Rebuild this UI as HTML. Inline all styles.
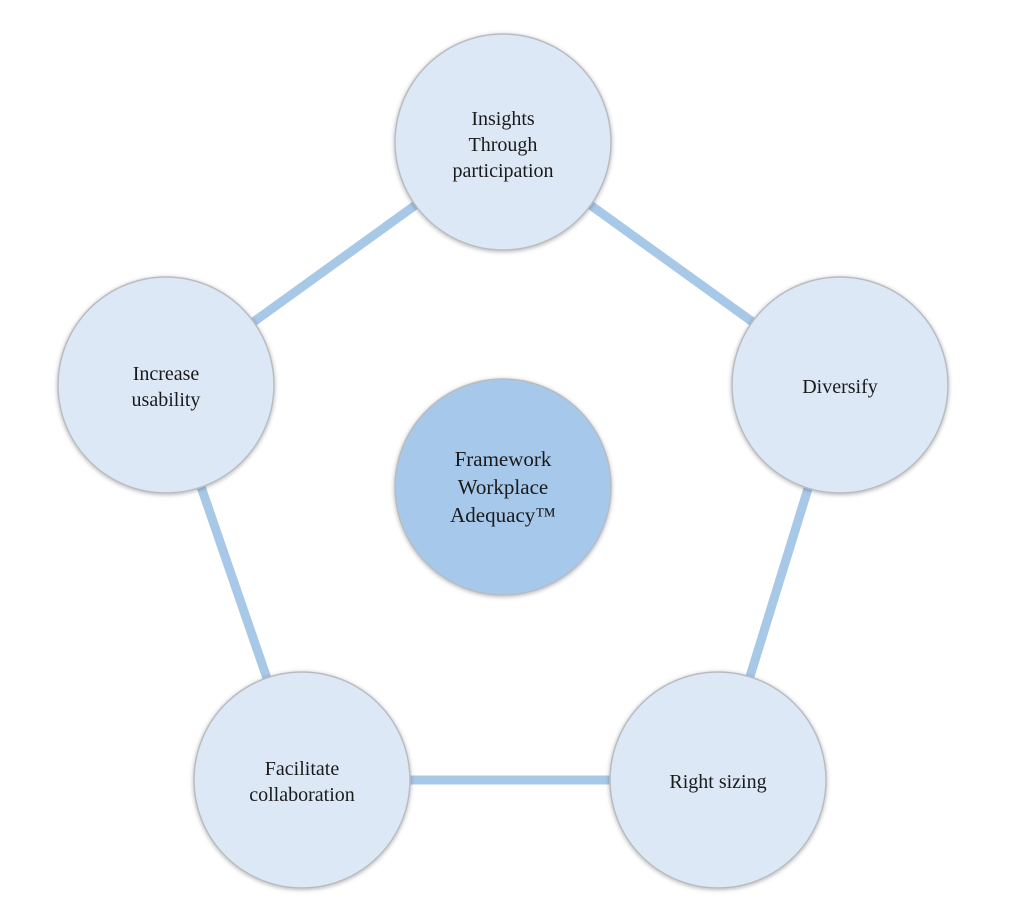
<!DOCTYPE html>
<html><head><style>
body{margin:0;background:#fff;}
svg text{font-family:"Liberation Serif",serif;font-size:20px;fill:#1a1a1a;text-anchor:middle;}
</style></head><body>
<svg width="1024" height="908" viewBox="0 0 1024 908" xmlns="http://www.w3.org/2000/svg">
<defs><filter id="s" x="-20%" y="-20%" width="140%" height="140%"><feDropShadow dx="0" dy="1" stdDeviation="2" flood-color="#000" flood-opacity="0.3"/></filter></defs>
<g stroke="#a8c8e8" stroke-width="9">
<line x1="503" y1="142" x2="840" y2="385"/>
<line x1="840" y1="385" x2="718" y2="780"/>
<line x1="718" y1="780" x2="302" y2="780"/>
<line x1="302" y1="780" x2="166" y2="385"/>
<line x1="166" y1="385" x2="503" y2="142"/>
</g>
<g stroke="#b8bcc0" stroke-width="1.5" filter="url(#s)">
<circle cx="503" cy="142" r="108" fill="#dce8f5"/>
<circle cx="840" cy="385" r="108" fill="#dce8f5"/>
<circle cx="718" cy="780" r="108" fill="#dce8f5"/>
<circle cx="302" cy="780" r="108" fill="#dce8f5"/>
<circle cx="166" cy="385" r="108" fill="#dce8f5"/>
<circle cx="503" cy="487" r="108" fill="#a6c8ea"/>
</g>
<text x="503" y="125">Insights</text>
<text x="503" y="151">Through</text>
<text x="503" y="177">participation</text>
<text x="840" y="393">Diversify</text>
<text x="718" y="788">Right sizing</text>
<text x="302" y="775">Facilitate</text>
<text x="302" y="801">collaboration</text>
<text x="166" y="380">Increase</text>
<text x="166" y="406">usability</text>
<text x="503" y="466" style="font-size:21px">Framework</text>
<text x="503" y="494" style="font-size:21px">Workplace</text>
<text x="503" y="522" style="font-size:21px">Adequacy™</text>
</svg>
</body></html>
